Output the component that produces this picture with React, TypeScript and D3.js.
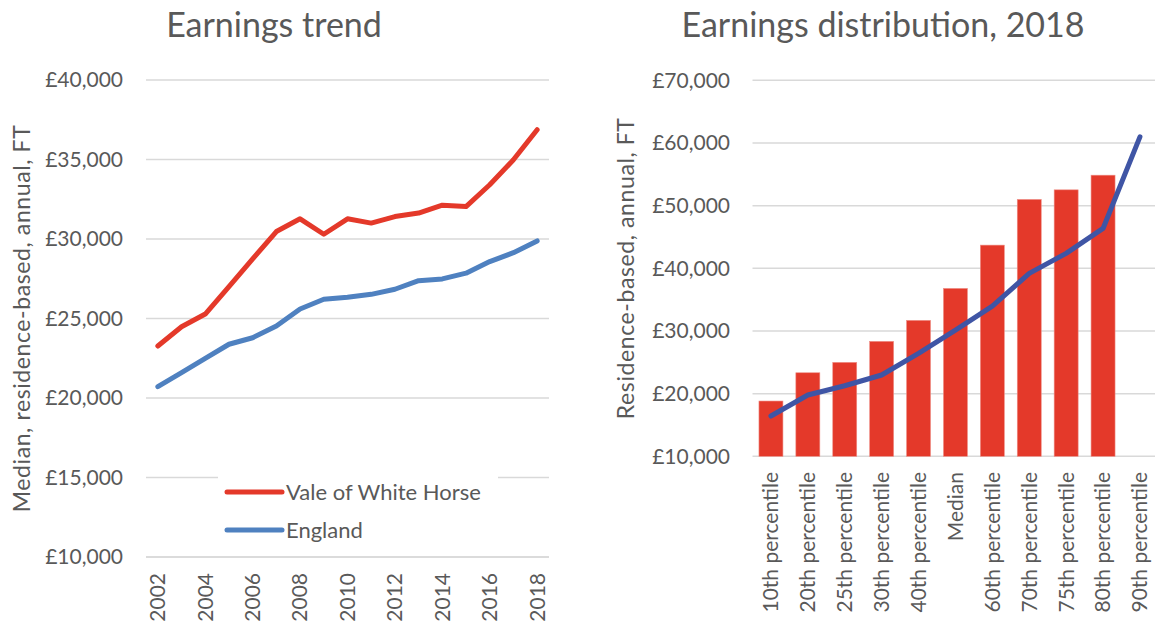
import React from "react";
import * as d3 from "d3";

const years = ["2002","2003","2004","2005","2006","2007","2008","2009","2010","2011","2012","2013","2014","2015","2016","2017","2018"];
const valeOfWhiteHorse = [23270, 24480, 25280, 27010, 28750, 30470, 31270, 30300, 31270, 31000, 31410, 31630, 32130, 32040, 33410, 34980, 36870];
const england = [20710, 21590, 22490, 23380, 23790, 24530, 25600, 26210, 26340, 26520, 26840, 27380, 27490, 27850, 28580, 29140, 29880];
const yearTickLabels = ["2002","2004","2006","2008","2010","2012","2014","2016","2018"];
const trendTicks = [10000, 15000, 20000, 25000, 30000, 35000, 40000];

const percentiles = ["10th percentile","20th percentile","25th percentile","30th percentile","40th percentile","Median","60th percentile","70th percentile","75th percentile","80th percentile","90th percentile"];
const localDistribution: (number | null)[] = [18820, 23330, 24990, 28340, 31690, 36790, 43700, 50990, 52520, 54860, null];
const englandDistribution = [16430, 19780, 21260, 22970, 26430, 30140, 33970, 39190, 42380, 46360, 60970];
const distTicks = [10000, 20000, 30000, 40000, 50000, 60000, 70000];

const FONT = "Lato, 'Open Sans', sans-serif";
const TEXT = "#595959";
const GRID = "#D9D9D9";
const RED = "#E4392A";
const BLUE = "#4F81C0";
const DARKBLUE = "#3F55A5";

const fmt = (v: number) => "£" + d3.format(",")(v);

export default function App() {
  // Left chart
  const lx = d3.scaleBand<string>().domain(years).range([146, 549]);
  const ly = d3.scaleLinear().domain([10000, 40000]).range([557, 80]);
  const lcx = (y: string) => (lx(y) as number) + lx.bandwidth() / 2;
  const lineL = d3.line<number>().x((_, i) => lcx(years[i])).y((d) => ly(d));

  // Right chart
  const rx = d3.scaleBand<string>().domain(percentiles).range([752.5, 1158.4]);
  const ry = d3.scaleLinear().domain([10000, 70000]).range([456.3, 80.3]);
  const rcx = (c: string) => (rx(c) as number) + rx.bandwidth() / 2;
  const barW = rx.bandwidth() * 0.65;
  const lineR = d3.line<number>().x((_, i) => rcx(percentiles[i])).y((d) => ry(d));

  const lMidY = (ly.range()[0] + ly.range()[1]) / 2;
  const rMidY = (ry.range()[0] + ry.range()[1]) / 2;

  return (
    <svg width={1155} height={624} style={{ position: "absolute", left: 0, top: 0, background: "#fff" }} fontFamily={FONT}>
      {/* ===== Left chart ===== */}
      <text x={274} y={37} textAnchor="middle" fontSize={34} fill={TEXT}>Earnings trend</text>
      {trendTicks.map((t) => (
        <g key={t}>
          <line x1={146} x2={549} y1={ly(t)} y2={ly(t)} stroke={GRID} strokeWidth={1.5} />
          <text x={123} y={ly(t)} dy="0.35em" textAnchor="end" fontSize={21} fill={TEXT}>{fmt(t)}</text>
        </g>
      ))}
      <text transform={`translate(22,${lMidY}) rotate(-90)`} textAnchor="middle" dy="0.35em" fontSize={23} letterSpacing={0.6} fill={TEXT}>
        Median, residence-based, annual, FT
      </text>
      {yearTickLabels.map((y) => (
        <text key={y} transform={`translate(${lcx(y)},573) rotate(-90)`} textAnchor="end" dy="0.35em" fontSize={21} fill={TEXT}>{y}</text>
      ))}
      <path d={lineL(england) || ""} fill="none" stroke={BLUE} strokeWidth={5} strokeLinejoin="round" strokeLinecap="round" />
      <path d={lineL(valeOfWhiteHorse) || ""} fill="none" stroke={RED} strokeWidth={5} strokeLinejoin="round" strokeLinecap="round" />
      {/* legend */}
      <rect x={218} y={472} width={280} height={76} fill="#fff" />
      <line x1={227} x2={282} y1={492} y2={492} stroke={RED} strokeWidth={5} strokeLinecap="round" />
      <text x={286} y={492} dy="0.35em" fontSize={22} fill={TEXT}>Vale of White Horse</text>
      <line x1={227} x2={282} y1={530} y2={530} stroke={BLUE} strokeWidth={5} strokeLinecap="round" />
      <text x={286} y={530} dy="0.35em" fontSize={22} fill={TEXT}>England</text>
      <line x1={146} x2={549} y1={ly(10000)} y2={ly(10000)} stroke={GRID} strokeWidth={1.5} />

      {/* ===== Right chart ===== */}
      <text x={883} y={37} textAnchor="middle" fontSize={34} fill={TEXT}>Earnings distribution, 2018</text>
      {distTicks.map((t) => (
        <g key={t}>
          <line x1={752.5} x2={1158.4} y1={ry(t)} y2={ry(t)} stroke={GRID} strokeWidth={1.5} />
          <text x={730} y={ry(t)} dy="0.35em" textAnchor="end" fontSize={21} fill={TEXT}>{fmt(t)}</text>
        </g>
      ))}
      <text transform={`translate(626,${rMidY}) rotate(-90)`} textAnchor="middle" dy="0.35em" fontSize={23} letterSpacing={0.6} fill={TEXT}>
        Residence-based, annual, FT
      </text>
      {percentiles.map((c, i) => {
        const v = localDistribution[i];
        if (v == null) return null;
        return (
          <rect key={c} x={rcx(c) - barW / 2} y={ry(v)} width={barW} height={ry(10000) - ry(v)} fill={RED} stroke="#EF8F87" strokeWidth={0.6} />
        );
      })}
      <path d={lineR(englandDistribution) || ""} fill="none" stroke={DARKBLUE} strokeWidth={5} strokeLinejoin="round" strokeLinecap="round" />
      {percentiles.map((c) => (
        <text key={c} transform={`translate(${rcx(c)},472) rotate(-90)`} textAnchor="end" dy="0.35em" fontSize={21} fill={TEXT}>{c}</text>
      ))}
    </svg>
  );
}
